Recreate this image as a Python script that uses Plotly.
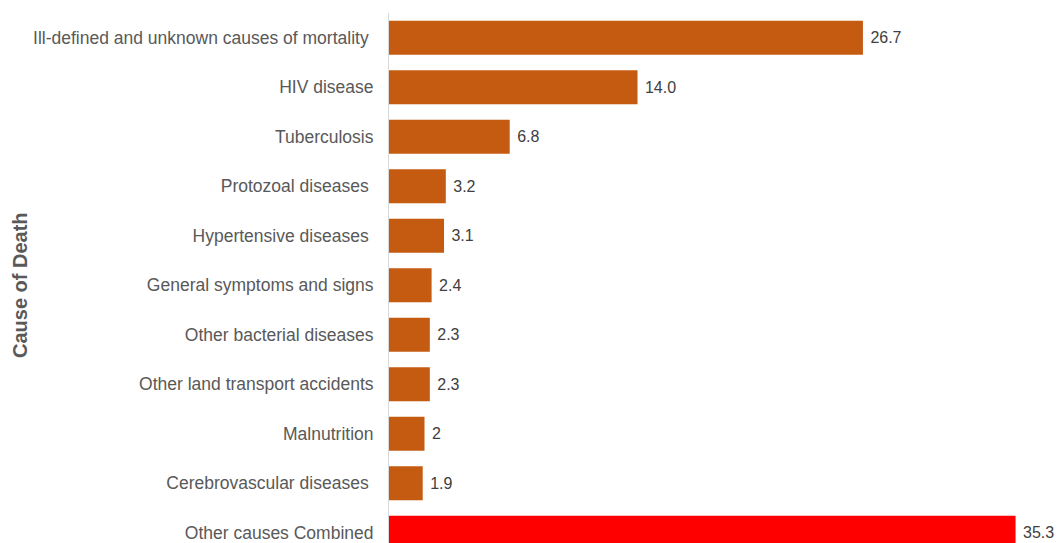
import plotly.graph_objects as go

# Leading causes of death (% of deaths)
causes = [
    "Ill-defined and unknown causes of mortality\u00a0",
    "HIV disease",
    "Tuberculosis",
    "Protozoal diseases\u00a0",
    "Hypertensive diseases\u00a0",
    "General symptoms and signs",
    "Other bacterial diseases",
    "Other land transport accidents",
    "Malnutrition",
    "Cerebrovascular diseases\u00a0",
    "Other causes Combined",
]
values = [26.7, 14.0, 6.8, 3.2, 3.1, 2.4, 2.3, 2.3, 2, 1.9, 35.3]
value_labels = ["26.7", "14.0", "6.8", "3.2", "3.1", "2.4", "2.3", "2.3", "2", "1.9", "35.3"]

base_color = "#C55A11"
highlight_color = "#FF0000"
colors = [highlight_color if c.startswith("Other causes") else base_color for c in causes]

W, H = 1060, 543
m_left, m_top = 389, 13
plot_h = H - m_top
row_px = 49.5
x_scale = 17.75  # px per percentage point

fig = go.Figure(
    go.Bar(
        y=causes,
        x=values,
        orientation="h",
        marker=dict(color=colors, line=dict(width=0)),
        width=0.69,
        text=["\u00a0" + t for t in value_labels],
        textposition="outside",
        textfont=dict(family="Liberation Sans, Arial, sans-serif", size=16, color="#404040"),
        cliponaxis=False,
        hoverinfo="skip",
    )
)

fig.update_layout(
    width=W,
    height=H,
    margin=dict(l=m_left, r=0, t=m_top, b=0, autoexpand=False),
    plot_bgcolor="white",
    paper_bgcolor="white",
    showlegend=False,
    font=dict(family="Liberation Sans, Arial, sans-serif", size=16, color="#595959"),
    xaxis=dict(
        visible=False,
        range=[0, (W - m_left) / x_scale],
        fixedrange=True,
    ),
    yaxis=dict(
        type="category",
        categoryorder="array",
        categoryarray=causes,
        range=[-0.5 + plot_h / row_px, -0.5],
        showline=True,
        linecolor="#D9D9D9",
        linewidth=1,
        showgrid=False,
        zeroline=False,
        ticks="",
        ticklabelstandoff=11,
        tickfont=dict(size=17.5, color="#595959"),
    ),
    annotations=[
        dict(
            text="<b>Cause of Death</b>",
            xref="paper",
            yref="paper",
            x=(20 - m_left) / (W - m_left),
            y=1 - (285 - m_top) / plot_h,
            xanchor="center",
            yanchor="middle",
            textangle=-90,
            showarrow=False,
            font=dict(size=20, color="#595959"),
        )
    ],
)

fig.write_html("out.html")
